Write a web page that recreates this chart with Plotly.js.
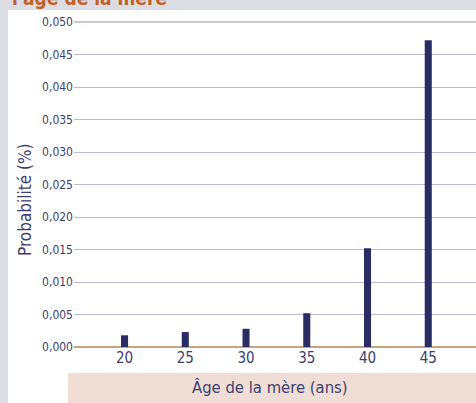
<!DOCTYPE html>
<html>
<head>
<meta charset="utf-8">
<script src="https://cdn.plot.ly/plotly-3.0.1.min.js"></script>
<style>
html,body{margin:0;padding:0;background:#ffffff;}
#chart{width:476px;height:403px;}
</style>
</head>
<body>
<div id="chart"></div>
<script>
const ages = [20, 25, 30, 35, 40, 45];
const probabilite = [0.0018, 0.0023, 0.0028, 0.0052, 0.0152, 0.0472];
const yTicks = [0, 0.005, 0.01, 0.015, 0.02, 0.025, 0.03, 0.035, 0.04, 0.045, 0.05];
const titleText = "l'âge de la mère";
const xTitle = "Âge de la mère (ans)";
const yTitle = "Probabilité (%)";

const FONT = '"Liberation Sans Narrow", "DejaVu Sans Condensed", sans-serif';
const TXT = '#3d4070';

const trace = {
  type: 'bar',
  x: ages,
  y: probabilite,
  width: 0.58,
  marker: {color: '#2a2d63', line: {width: 0}},
  hoverinfo: 'skip'
};

const layout = {
  width: 476, height: 403,
  margin: {l: 74, r: 0, t: 22, b: 56, pad: 0},
  paper_bgcolor: '#dcdde3',
  plot_bgcolor: '#e8e7ef',
  separators: ', ',
  showlegend: false,
  font: {family: FONT, color: TXT},
  xaxis: {
    range: [15.84, 48.93],
    tickvals: ages,
    ticktext: ages.map(String),
    showgrid: false,
    zeroline: false,
    showline: false,
    ticks: '',
    tickfont: {family: FONT, size: 15, color: TXT},
    fixedrange: true
  },
  yaxis: {
    range: [0, 0.05],
    tickvals: yTicks,
    tickformat: '.3f',
    showgrid: true,
    gridcolor: '#b9bbd7',
    gridwidth: 1,
    zeroline: true,
    zerolinecolor: '#c9a27f',
    zerolinewidth: 2,
    showline: false,
    ticks: '',
    tickfont: {family: FONT, size: 12, color: TXT},
    fixedrange: true
  },
  shapes: [
    {type: 'rect', xref: 'paper', yref: 'paper', layer: 'below',
     x0: -66/402, x1: 1.01, y0: -56/325, y1: 1 + 12/325,
     fillcolor: '#ffffff', line: {width: 0}},
    {type: 'rect', xref: 'paper', yref: 'paper', layer: 'below',
     x0: -6/402, x1: 1.01, y0: -57/325, y1: -26/325,
     fillcolor: '#f0ded6', line: {width: 0}},
    {type: 'line', xref: 'paper', yref: 'paper', layer: 'above',
     x0: 0, x1: 1, y0: 1, y1: 1,
     line: {color: '#c8c7d5', width: 2}}
  ],
  annotations: [
    {text: titleText, xref: 'paper', yref: 'paper', x: -64/402, y: 1 + 11/325,
     xanchor: 'left', yanchor: 'bottom', showarrow: false,
     font: {family: FONT, size: 19, color: '#c0622a', weight: 'bold'}},
    {text: yTitle, xref: 'paper', yref: 'paper', x: -49/402, y: (347 - 200) / 325,
     xanchor: 'center', yanchor: 'middle', textangle: -90, showarrow: false,
     font: {family: FONT, size: 17, color: TXT}},
    {text: xTitle, xref: 'paper', yref: 'paper', x: (270 - 74) / 402, y: -(387 - 347) / 325,
     xanchor: 'center', yanchor: 'middle', showarrow: false,
     font: {family: FONT, size: 16.5, color: TXT}}
  ]
};

Plotly.newPlot('chart', [trace], layout, {staticPlot: true, displayModeBar: false});
</script>
</body>
</html>
